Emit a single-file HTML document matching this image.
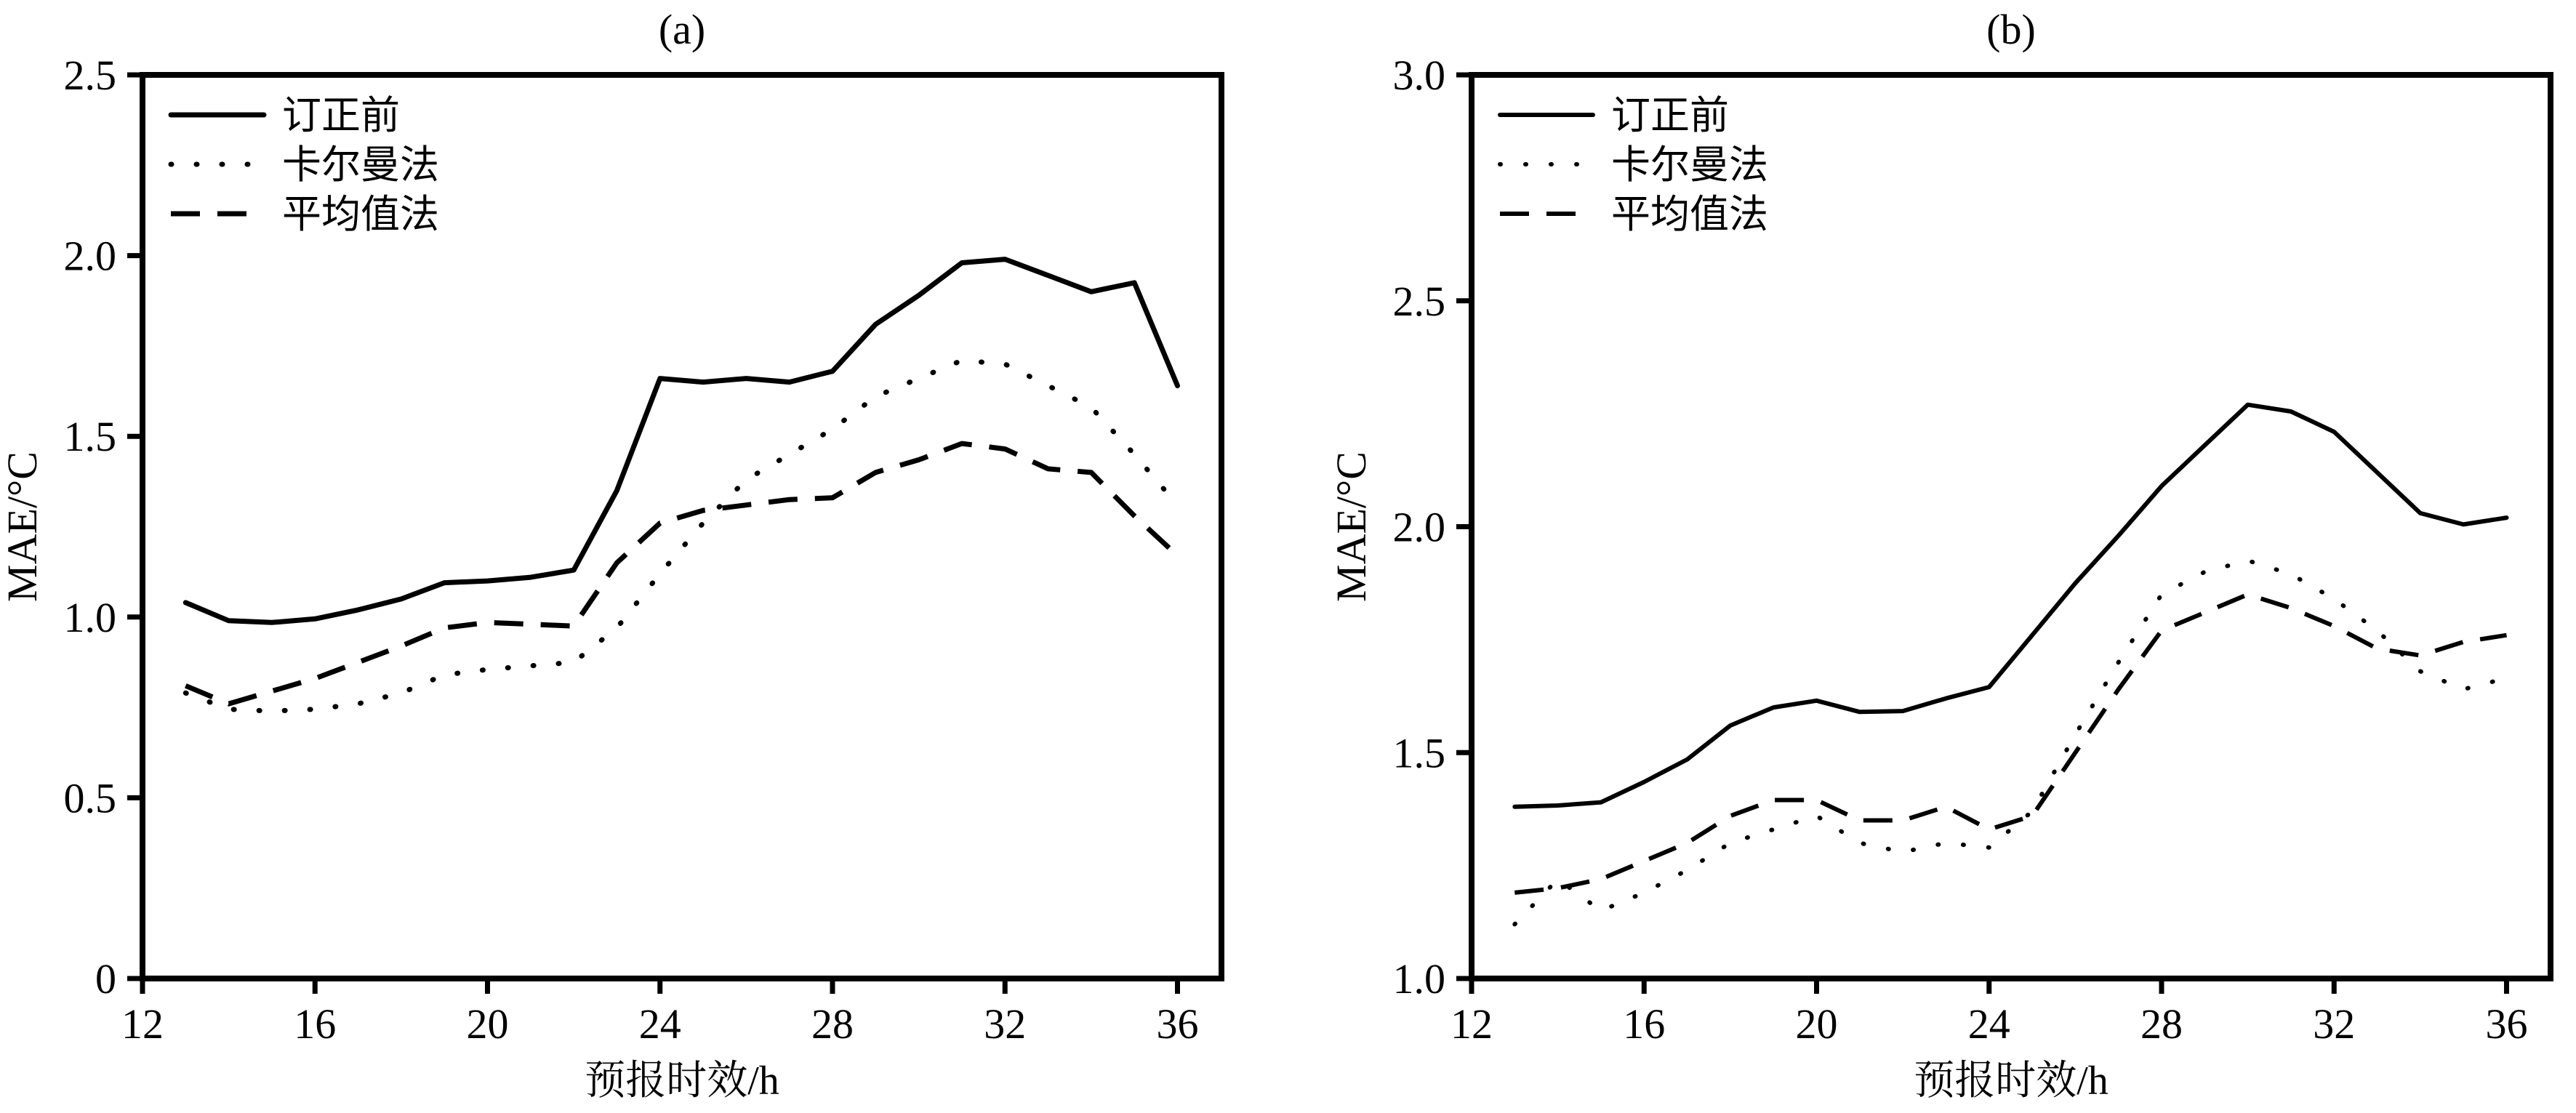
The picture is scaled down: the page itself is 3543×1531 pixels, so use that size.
<!DOCTYPE html>
<html><head><meta charset="utf-8"><style>
html,body{margin:0;padding:0;background:#fff;}
svg{display:block;}
text{fill:#000;}
.num{font-family:"Liberation Serif",serif;font-size:58px;}
.cjk{font-family:"Liberation Serif","Noto Serif CJK SC","Noto Sans CJK SC",serif;font-size:56px;}
.leg{font-family:"Liberation Sans","Noto Sans CJK SC",sans-serif;font-size:54px;}
</style></head><body>
<svg id="chart" width="3543" height="1531" viewBox="0 0 3543 1531" xmlns="http://www.w3.org/2000/svg"></svg>
<script>
const hours = [13,14,15,16,17,18,19,20,21,22,23,24,25,26,27,28,29,30,31,32,33,34,35,36];
const xTicks = [12,16,20,24,28,32,36];
const seriesNames = ["订正前","卡尔曼法","平均值法"];
const aBefore = [1.04,0.99,0.985,0.995,1.02,1.05,1.095,1.10,1.11,1.13,1.35,1.66,1.65,1.66,1.65,1.68,1.81,1.89,1.98,1.99,1.945,1.90,1.925,1.64];
const aKalman = [0.79,0.745,0.74,0.745,0.76,0.79,0.84,0.855,0.865,0.875,0.97,1.12,1.26,1.38,1.45,1.52,1.61,1.66,1.71,1.70,1.64,1.58,1.45,1.31];
const aMean = [0.81,0.76,0.795,0.83,0.875,0.92,0.97,0.985,0.98,0.975,1.15,1.26,1.295,1.31,1.325,1.33,1.40,1.435,1.48,1.465,1.41,1.40,1.28,1.17];
const aYTicks = ["0","0.5","1.0","1.5","2.0","2.5"];
const bBefore = [1.38,1.383,1.39,1.435,1.485,1.56,1.60,1.615,1.59,1.592,1.62,1.645,1.76,1.875,1.98,2.09,2.18,2.27,2.255,2.21,2.12,2.03,2.005,2.02];
const bKalman = [1.12,1.22,1.15,1.19,1.24,1.30,1.33,1.36,1.30,1.28,1.30,1.29,1.37,1.54,1.70,1.85,1.90,1.925,1.895,1.84,1.77,1.68,1.64,1.665];
const bMean = [1.19,1.20,1.22,1.26,1.30,1.36,1.395,1.395,1.35,1.35,1.38,1.33,1.36,1.50,1.64,1.77,1.81,1.85,1.82,1.78,1.73,1.715,1.745,1.76];
const bYTicks = ["1.0","1.5","2.0","2.5","3.0"];

const NS = "http://www.w3.org/2000/svg";
const svg = document.getElementById("chart");
function mk(tag, attrs, parent){
  const e = document.createElementNS(NS, tag);
  for (const k in attrs) e.setAttribute(k, attrs[k]);
  (parent||svg).appendChild(e);
  return e;
}
const styles = [
  {dash:null, cap:"round"},
  {dash:"1 34", cap:"round"},
  {dash:"40 24", cap:"butt"}
];
function panel(key, L, R, title, yMin, yMax, yTicks, series, lw, legX){
  const T = 103, B = 1346;
  const g = mk("g", {});
  
  
  const x = v => L + (v - 12) * (R - L) / 25.02;
  const y = v => B - (v - yMin) * (B - T) / (yMax - yMin);
  const t = mk("text", {x:(L+R)/2, y:60, "text-anchor":"middle", class:"num"}, g);
  t.textContent = title;
  
  
  xTicks.forEach(v => {
    const tk = mk("line", {x1:x(v), x2:x(v), y1:B, y2:B+21, stroke:"#000", "stroke-width":7}, g);
    
    
    const tl = mk("text", {x:x(v), y:1428, "text-anchor":"middle", class:"num"}, g);
    tl.textContent = v;
    
    
  });
  yTicks.forEach(s => {
    const v = parseFloat(s);
    const tk = mk("line", {x1:L-21, x2:L, y1:y(v), y2:y(v), stroke:"#000", "stroke-width":7}, g);
    
    
    const tl = mk("text", {x:L-36, y:y(v)+20, "text-anchor":"end", class:"num"}, g);
    tl.textContent = s;
    
    
  });
  series.forEach((vals, i) => {
    const d = vals.map((v, j) => (j ? "L" : "M") + x(hours[j]).toFixed(1) + " " + y(v).toFixed(1)).join(" ");
    const p = mk("path", {d:d, fill:"none", stroke:"#000", "stroke-width":lw, "stroke-linejoin":"round", "stroke-linecap":styles[i].cap}, g);
    if (styles[i].dash) p.setAttribute("stroke-dasharray", styles[i].dash);
    
    
  });
  const fr = mk("rect", {x:L, y:T, width:R-L, height:B-T, fill:"none", stroke:"#000", "stroke-width":8}, g);
  
  
  seriesNames.forEach((nm, i) => {
    const ly = 158 + i * 68;
    const ln = mk("line", {x1:legX, x2:legX+128, y1:ly, y2:ly, stroke:"#000", "stroke-width":lw, "stroke-linecap":styles[i].cap}, g);
    if (styles[i].dash) ln.setAttribute("stroke-dasharray", styles[i].dash);
    
    
    const lt = mk("text", {x:legX+153, y:ly+19, class:"leg"}, g);
    lt.textContent = nm;
    
    
  });
  const xt = mk("text", {x:(L+R)/2, y:1505, "text-anchor":"middle", class:"cjk"}, g);
  xt.textContent = "预报时效/h";
  
  
  const yx = L - 146;
  const yt = mk("text", {x:yx, y:(T+B)/2, "text-anchor":"middle", class:"num", transform:"rotate(-90 "+yx+" "+((T+B)/2)+")"}, g);
  yt.textContent = "MAE/°C";
  
  
}
panel("a", 196, 1680, "(a)", 0, 2.5, aYTicks, [aBefore, aKalman, aMean], 7, 235);
panel("b", 2024, 3508, "(b)", 1.0, 3.0, bYTicks, [bBefore, bKalman, bMean], 6, 2063);
</script>
</body></html>
